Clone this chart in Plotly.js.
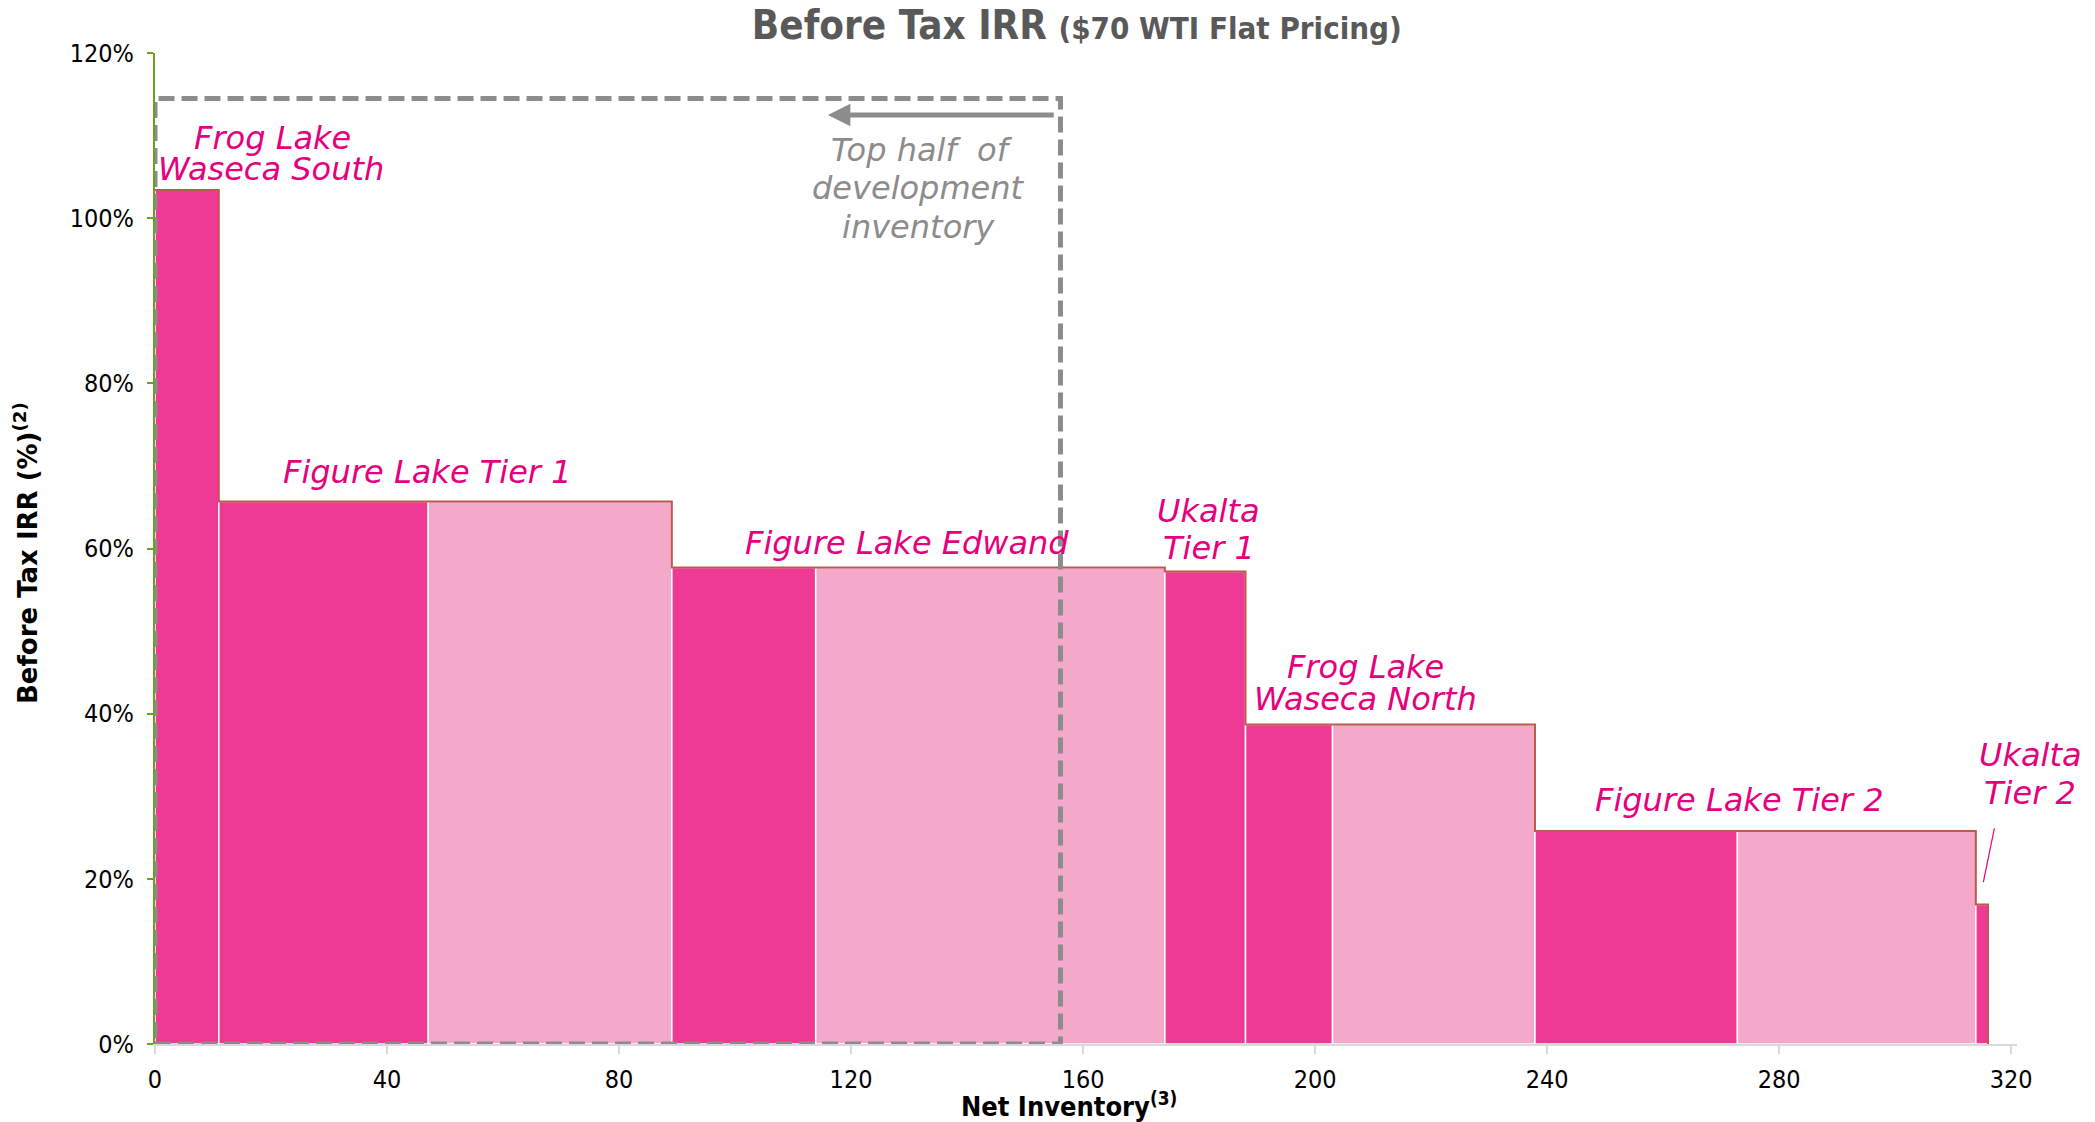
<!DOCTYPE html>
<html>
<head>
<meta charset="utf-8">
<script src="https://cdn.plot.ly/plotly-3.0.1.min.js"></script>
<style>html,body{margin:0;padding:0;background:#fff;}#chart{width:2095px;height:1122px;}</style>
</head>
<body>
<div id="chart"></div>
<script>
// ---- data ----
const segNames  = ['Frog Lake Waseca South','Figure Lake Tier 1','Figure Lake Tier 1','Figure Lake Edwand','Figure Lake Edwand','Ukalta Tier 1','Frog Lake Waseca North','Frog Lake Waseca North','Figure Lake Tier 2','Figure Lake Tier 2','Ukalta Tier 2'];
const segWidths = [11.0, 36.1, 42.0, 24.8, 60.2, 13.9, 15.0, 34.9, 34.9, 41.1, 2.1];   // net inventory per segment
const segIRR    = [103.4, 65.7, 65.7, 57.7, 57.7, 57.2, 38.7, 38.7, 25.8, 25.8, 16.9]; // before tax IRR, %
const segShade  = ['dark','dark','light','dark','light','dark','dark','light','dark','light','dark'];
const xTickVals = [0, 40, 80, 120, 160, 200, 240, 280, 320];
const yTickVals = [0, 20, 40, 60, 80, 100, 120];
const topHalfInventory = 156.1;   // right edge of the "top half" box
const topHalfBoxIRR = 114.5;      // top edge of the box

// ---- derived geometry through the axes ----
const starts = [], mids = [];
let acc = 0;
segWidths.forEach(w => { starts.push(acc); mids.push(acc + w / 2); acc += w; });
const totalInv = acc;

const X_RANGE = [0, 321];
const DARK = '#EE3A94', LIGHT = '#F4A8CA', MAGENTA = '#E6007E', GREY = '#8C8C8C', OUTLINE = '#BC5A4E';

const bars = {
  type: 'bar',
  x: mids, y: segIRR, width: segWidths, base: 0,
  marker: { color: segShade.map(s => s === 'dark' ? DARK : LIGHT), line: { color: '#FFFFFF', width: 1.5 } },
  hovertext: segNames, showlegend: false
};

// step outline along the top of the bars
const ox = [], oy = [];
segWidths.forEach((w, i) => { ox.push(starts[i], starts[i] + w); oy.push(segIRR[i], segIRR[i]); });
ox.push(totalInv); oy.push(0);
const outline = { type: 'scatter', mode: 'lines', x: ox, y: oy, line: { color: OUTLINE, width: 2 }, hoverinfo: 'skip', showlegend: false };

const LBL = { family: 'DejaVu Sans, Verdana, sans-serif', size: 32, color: MAGENTA };
const GRYF = { family: 'DejaVu Sans, Verdana, sans-serif', size: 32, color: GREY };
function lab(text, x, y, font) {
  // labels beyond the x range are placed in paper units so they are not hidden
  const outside = x > X_RANGE[1];
  return { text: '<i>' + text + '</i>', x: outside ? (x - X_RANGE[0]) / (X_RANGE[1] - X_RANGE[0]) : x, y: y,
           xref: outside ? 'paper' : 'x', yref: 'y', showarrow: false, xanchor: 'center', yanchor: 'middle', font: font || LBL };
}
const annotations = [
  lab('Frog Lake', 20.2, 109.7),
  lab('Waseca South', 20.0, 105.9),
  lab('Figure Lake Tier 1', 47.0, 69.3),
  lab('Figure Lake Edwand', 129.6, 60.7),
  lab('Ukalta', 181.7, 64.5),
  lab('Tier 1', 181.7, 60.1),
  lab('Frog Lake', 208.6, 45.6),
  lab('Waseca North', 208.6, 41.8),
  lab('Figure Lake Tier 2', 273.1, 29.5),
  lab('Ukalta', 323.3, 35.0),
  lab('Tier 2', 323.3, 30.4),
  lab('Top half  of', 132.2, 108.3, GRYF),
  lab('development', 131.7, 103.6, GRYF),
  lab('inventory', 131.7, 98.9, GRYF),
  // arrow pointing left along the top of the box
  { x: 116.0, y: 112.5, ax: 155.2, ay: 112.5, xref: 'x', yref: 'y', axref: 'x', ayref: 'y', text: '', showarrow: true,
    arrowhead: 2, arrowsize: 0.9, arrowwidth: 5, arrowcolor: GREY },
  // axis titles
  { text: '<b>Before Tax IRR (%)<sup>(2)</sup></b>', xref: 'paper', yref: 'paper', x: -0.069, y: 0.495, textangle: -90,
    showarrow: false, xanchor: 'center', yanchor: 'middle', font: { family: 'DejaVu Sans, Verdana, sans-serif', size: 26, color: '#000' } },
  { text: '<b>Net Inventory<sup>(3)</sup></b>', xref: 'paper', yref: 'paper', x: 0.491, y: -0.061,
    showarrow: false, xanchor: 'center', yanchor: 'middle', font: { family: 'DejaVu Sans Condensed, DejaVu Sans, sans-serif', size: 27, color: '#000' } }
];

const shapes = [
  { type: 'rect', xref: 'x', yref: 'y', x0: 0, x1: topHalfInventory, y0: 0, y1: topHalfBoxIRR,
    line: { color: GREY, width: 5, dash: '16px,7px' }, fillcolor: 'rgba(0,0,0,0)', layer: 'above' },
  // leader line to Ukalta Tier 2
  { type: 'line', xref: 'x', yref: 'y', x0: 317.1, y0: 26.1, x1: 315.2, y1: 19.6, line: { color: MAGENTA, width: 1.2 } }
];

const TICKF = { family: 'DejaVu Sans Condensed, DejaVu Sans, sans-serif', size: 25, color: '#000' };

const layout = {
  width: 2095, height: 1122,
  margin: { l: 155, r: 78, t: 53, b: 78 },
  paper_bgcolor: '#FFFFFF', plot_bgcolor: '#FFFFFF',
  title: {
    text: '<b>Before Tax IRR</b> <b><span style="font-size:31px">($70 WTI Flat Pricing)</span></b>',
    font: { family: 'DejaVu Sans Condensed, DejaVu Sans, sans-serif', size: 40, color: '#595959' },
    xref: 'container', yref: 'container', x: 0.514, y: 0.978, xanchor: 'center', yanchor: 'middle'
  },
  xaxis: {
    range: X_RANGE, tickmode: 'array', tickvals: xTickVals, ticktext: xTickVals.map(String),
    showgrid: false, zeroline: false, showline: true, linecolor: '#D9D9D9', linewidth: 2,
    ticks: 'outside', ticklen: 8, tickcolor: '#D9D9D9', tickwidth: 2, tickfont: TICKF, ticklabelstandoff: 4
  },
  yaxis: {
    range: [0, 120], tickmode: 'array', tickvals: yTickVals, ticktext: yTickVals.map(v => v + '%'),
    showgrid: false, zeroline: false, showline: true, linecolor: '#6AA121', linewidth: 2,
    ticks: 'outside', ticklen: 6, tickcolor: '#6AA121', tickwidth: 2, tickfont: TICKF, ticklabelstandoff: 8
  },
  bargap: 0,
  annotations: annotations,
  shapes: shapes,
  showlegend: false
};

Plotly.newPlot('chart', [bars, outline], layout, { displayModeBar: false, staticPlot: true });
</script>
</body>
</html>
